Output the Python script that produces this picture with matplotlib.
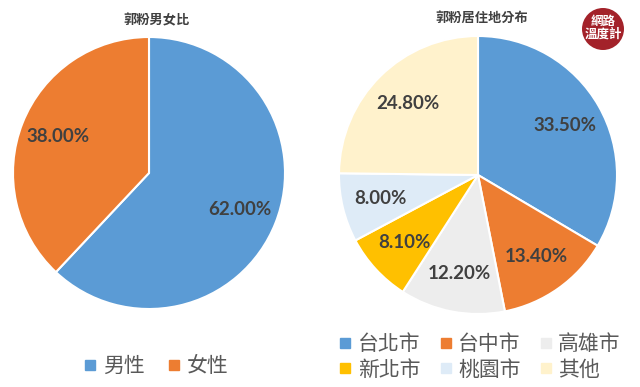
import matplotlib.pyplot as plt
from matplotlib.lines import Line2D
from matplotlib.patches import Ellipse

plt.rcParams['font.family'] = ['Noto Sans CJK TC', 'DejaVu Sans']

# 郭粉男女比
gender_labels = ['男性', '女性']
gender_values = [62.0, 38.0]
gender_colors = ['#5B9BD5', '#ED7D31']

# 郭粉居住地分布
city_labels = ['台北市', '台中市', '高雄市', '新北市', '桃園市', '其他']
city_values = [33.5, 13.4, 12.2, 8.1, 8.0, 24.8]
city_colors = ['#5B9BD5', '#ED7D31', '#EDEDED', '#FFC000', '#DEEBF7', '#FFF2CC']

W, H = 640, 387
fig = plt.figure(figsize=(6.4, 3.87), dpi=100)
fig.patch.set_facecolor('white')


def pie_axes(cx, cy, r):
    return fig.add_axes([(cx - r) / W, (H - cy - r) / H, 2 * r / W, 2 * r / H])


def draw_pie(ax, values, colors, pctdist):
    wedges, texts, autotexts = ax.pie(values, colors=colors, startangle=90, counterclock=False,
                                      autopct='%.2f%%', pctdistance=pctdist,
                                      wedgeprops={'edgecolor': 'white', 'linewidth': 1.5})
    for t in autotexts:
        t.set_family(['Lato', 'DejaVu Sans'])
        t.set_weight('bold')
        t.set_size(13.5)
        t.set_color('#404040')
    ax.set_xlim(-1, 1)
    ax.set_ylim(-1, 1)
    ax.set_aspect('equal')
    ax.axis('off')
    return wedges


# left pie
ax1 = pie_axes(149, 173, 136)
draw_pie(ax1, gender_values, gender_colors, 0.72)
fig.text(157 / W, 1 - 20 / H, '郭粉男女比', ha='center', va='center', fontsize=9.5,
         color='#404040', fontweight='bold')

# right pie
ax2 = pie_axes(478, 175, 139)
draw_pie(ax2, city_values, city_colors, 0.72)
fig.text(482 / W, 1 - 18 / H, '郭粉居住地分布', ha='center', va='center', fontsize=9.5,
         color='#404040', fontweight='bold')


# legends
def handles(colors):
    return [Line2D([], [], marker='s', linestyle='none', markersize=7,
                   markerfacecolor=c, markeredgecolor=c) for c in colors]


fig.legend(handles(gender_colors), gender_labels, ncol=2, loc='center',
           bbox_to_anchor=(155 / W, 1 - 366 / H), frameon=False,
           fontsize=15, labelcolor='#595959', handletextpad=0.2, columnspacing=1.0,
           handlelength=0.8)

# legend fills column by column; reorder so it reads row by row
order = [0, 3, 1, 4, 2, 5]
city_handles = handles(city_colors)
fig.legend([city_handles[i] for i in order], [city_labels[i] for i in order], ncol=3,
           loc='center', bbox_to_anchor=(479 / W, 1 - 357 / H), frameon=False,
           fontsize=15, labelcolor='#595959', handletextpad=0.2, columnspacing=0.8,
           handlelength=0.8, labelspacing=0.15)

# logo
logo = Ellipse((603 / W, 1 - 29 / H), 42 / W, 42 / H, transform=fig.transFigure,
               facecolor='#A3222A', edgecolor='none')
fig.patches.append(logo)
fig.text(603 / W, 1 - 28 / H, '網路\n溫度計', ha='center', va='center', fontsize=9,
         color='white', linespacing=1.0, fontweight='bold')

fig.savefig('out.png', dpi=100)
